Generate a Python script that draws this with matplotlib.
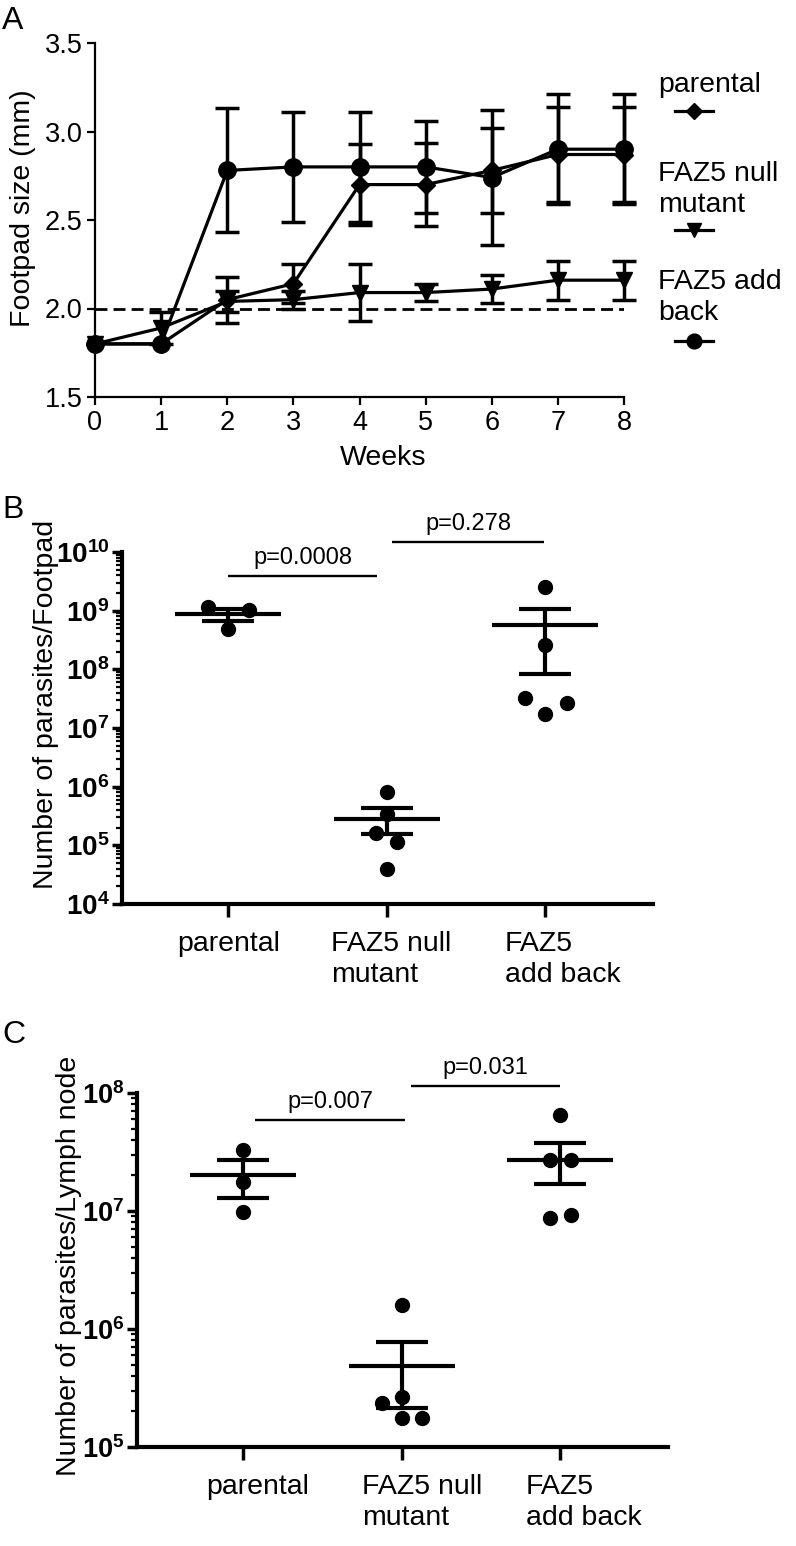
import math
import matplotlib
matplotlib.use('Agg')
import matplotlib.pyplot as plt
from matplotlib.lines import Line2D
from matplotlib.ticker import LogLocator, FixedLocator, NullFormatter
import matplotlib.transforms as mtransforms

plt.rcParams['font.family'] = ['Liberation Sans', 'DejaVu Sans']
plt.rcParams['mathtext.fontset'] = 'custom'
plt.rcParams['mathtext.rm'] = 'Liberation Sans'
plt.rcParams['mathtext.bf'] = 'Liberation Sans:bold'
plt.rcParams['mathtext.it'] = 'Liberation Sans:italic'

nan = float('nan')

# ---------------- DATA ----------------
weeks = [0, 1, 2, 3, 4, 5, 6, 7, 8]
parental_mean = [1.80, 1.80, 2.05, 2.14, 2.70, 2.70, 2.78, 2.87, 2.87]
parental_sem = [nan, nan, 0.13, 0.11, 0.23, 0.235, 0.24, 0.27, 0.27]
null_mean = [1.80, 1.89, 2.04, 2.05, 2.09, 2.09, 2.11, 2.16, 2.16]
null_sem = [nan, 0.09, 0.06, 0.05, 0.16, 0.05, 0.08, 0.11, 0.11]
addback_mean = [1.80, 1.80, 2.78, 2.80, 2.80, 2.80, 2.74, 2.90, 2.90]
addback_sem = [nan, nan, 0.35, 0.31, 0.31, 0.26, 0.38, 0.31, 0.31]
baseline_size = 2.0
legend_labels = ['parental', 'FAZ5 null\nmutant', 'FAZ5 add\nback']

groups = ['parental', 'FAZ5 null\nmutant', 'FAZ5\nadd back']

footpad_parental = [1.15e9, 1.02e9, 4.8e8]
footpad_null = [8.0e5, 3.4e5, 1.65e5, 1.15e5, 4.0e4]
footpad_addback = [2.5e9, 2.6e8, 3.2e7, 2.7e7, 1.7e7]
footpad_mean = [8.7e8, 2.8e5, 5.8e8]
footpad_upper = [1.08e9, 4.3e5, 1.08e9]
footpad_lower = [6.6e8, 1.55e5, 8.3e7]
footpad_p = ['p=0.0008', 'p=0.278']
footpad_bracket_y = [3.9e9, 1.48e10]

lymph_parental = [3.3e7, 1.75e7, 9.8e6]
lymph_null = [1.6e6, 2.35e5, 2.65e5, 1.77e5, 1.77e5]
lymph_addback = [6.5e7, 2.7e7, 2.7e7, 8.7e6, 9.2e6]
lymph_mean = [2.0e7, 4.9e5, 2.73e7]
lymph_upper = [2.7e7, 7.7e5, 3.8e7]
lymph_lower = [1.3e7, 2.13e5, 1.7e7]
lymph_p = ['p=0.007', 'p=0.031']
lymph_bracket_y = [5.9e7, 1.15e8]

# ---------------- LAYOUT ----------------
W, H = 796, 1546
fig = plt.figure(figsize=(W / 100, H / 100), dpi=100)


def rect(l, t, r, b):
    return [l / W, 1 - b / H, (r - l) / W, (b - t) / H]


def fx(x):
    return x / W


def fy(y):
    return 1 - y / H


axA = fig.add_axes(rect(95, 43, 624, 397))
axB = fig.add_axes(rect(122, 552, 653, 904))
axC = fig.add_axes(rect(137, 1093, 668, 1447))

# ---------------- PANEL A ----------------
styleA = [('D', 9), ('v', 11.5), ('o', 12.5)]
seriesA = [(parental_mean, parental_sem), (null_mean, null_sem), (addback_mean, addback_sem)]
for (m, e), (mk, ms) in zip(seriesA, styleA):
    axA.errorbar(weeks, m, yerr=e, fmt='-', color='black', lw=2.3, marker=mk, ms=ms,
                 mfc='black', mec='black', elinewidth=2.5, capsize=8.3, capthick=2.5,
                 clip_on=False, zorder=3)
axA.hlines(baseline_size, weeks[0], weeks[-1], colors='black',
           linestyles=(0, (4.3, 2.2)), lw=2.0, zorder=2)
axA.set_xlim(0, 8)
axA.set_ylim(1.5, 3.5)
axA.set_xticks(weeks)
axA.set_yticks([1.5, 2.0, 2.5, 3.0, 3.5])
axA.set_yticklabels(['1.5', '2.0', '2.5', '3.0', '3.5'])
for s in ['top', 'right']:
    axA.spines[s].set_visible(False)
for s in ['left', 'bottom']:
    axA.spines[s].set_linewidth(1.6)
axA.tick_params(direction='out', length=6, width=1.6, labelsize=19.5, pad=3)
axA.set_xlabel('Weeks', fontsize=20.5)
axA.set_ylabel('Footpad size (mm)', fontsize=20.5)
axA.xaxis.set_label_coords(0.544, -0.135)
axA.yaxis.set_label_coords(-0.111, 0.534)

# legend (text above marker line); baselines of the last line of each entry
leg_text_base = [92, 212, 320]
leg_marker_y = [111, 230, 341]
for lab, tb, my, (mk, ms) in zip(legend_labels, leg_text_base, leg_marker_y, styleA):
    fig.text(fx(658), fy(tb), lab, ha='left', va='baseline', fontsize=20.5, linespacing=1.25)
    fig.add_artist(Line2D([fx(675), fx(694), fx(713)], [fy(my)] * 3,
                          transform=fig.transFigure, color='black', lw=2.3,
                          marker=mk, ms=ms * 0.85, markevery=[1]))


# ---------------- PANELS B, C ----------------
def dot_panel(ax, values, offsets, means, uppers, lowers, pvals, spans, bracket_y,
              ylim, label_x, ylabel, ylabel_coords, ticksize):
    for i, (vals, offs) in enumerate(zip(values, offsets)):
        ax.plot([i + o for o in offs], vals, 'o', color='black', ms=10, clip_on=False, zorder=3)
    x = list(range(len(means)))
    ax.hlines(means, [i - 0.335 for i in x], [i + 0.335 for i in x], colors='black', lw=3, zorder=4)
    ax.vlines(x, lowers, uppers, colors='black', lw=3, zorder=4)
    ax.hlines(uppers, [i - 0.165 for i in x], [i + 0.165 for i in x], colors='black', lw=3, zorder=4)
    ax.hlines(lowers, [i - 0.165 for i in x], [i + 0.165 for i in x], colors='black', lw=3, zorder=4)
    for p, (a, b), by in zip(pvals, spans, bracket_y):
        ax.hlines(by, a, b, colors='black', lw=1.7, clip_on=False)
        ax.annotate(p, xy=((a + b) / 2, by), xytext=(0, 5), textcoords='offset points',
                    ha='center', va='bottom', fontsize=17, annotation_clip=False)
    ax.set_yscale('log')
    ax.set_ylim(*ylim)
    ax.set_xlim(-0.67, 2.68)
    lo, hi = [int(round(math.log10(v))) for v in ylim]
    ax.yaxis.set_major_locator(FixedLocator([10.0 ** k for k in range(lo, hi + 1)]))
    ax.set_yticklabels([r'$\mathbf{10^{%d}}$' % k for k in range(lo, hi + 1)])
    ax.yaxis.set_minor_locator(LogLocator(base=10, subs=range(2, 10), numticks=50))
    ax.yaxis.set_minor_formatter(NullFormatter())
    ax.set_xticks(x)
    ax.set_xticklabels([])
    for s in ['top', 'right']:
        ax.spines[s].set_visible(False)
    for s in ['left', 'bottom']:
        ax.spines[s].set_linewidth(3)
    ax.tick_params(axis='y', which='major', length=7, width=2.5, labelsize=ticksize, pad=2)
    ax.tick_params(axis='y', which='minor', length=4, width=1.6)
    ax.tick_params(axis='x', which='major', length=9, width=2.5)
    trans = mtransforms.offset_copy(ax.get_xaxis_transform(), fig=fig, y=-27, units='dots')
    for lx, g in zip(label_x, groups):
        ax.text(lx, 0, g, transform=trans, ha='center', va='top', multialignment='left',
                fontsize=20.5, linespacing=1.25)
    ax.set_ylabel(ylabel, fontsize=20.5)
    ax.yaxis.set_label_coords(*ylabel_coords)


dot_panel(axB,
          [footpad_parental, footpad_null, footpad_addback],
          [[-0.13, 0.13, 0.0], [0.0, 0.0, -0.07, 0.063, 0.0], [0.0, 0.0, -0.13, 0.14, 0.0]],
          footpad_mean, footpad_upper, footpad_lower, footpad_p,
          [(0.0, 0.94), (1.035, 1.99)], footpad_bracket_y,
          (1e4, 1e10), [0.0, 1.03, 2.11],
          'Number of parasites/Footpad', (-0.119, 0.568), 20)

dot_panel(axC,
          [lymph_parental, lymph_null, lymph_addback],
          [[0.0, 0.0, 0.0], [0.0, -0.126, 0.0, 0.0, 0.13], [0.0, -0.063, 0.07, -0.063, 0.07]],
          lymph_mean, lymph_upper, lymph_lower, lymph_p,
          [(0.075, 1.02), (1.06, 2.0)], lymph_bracket_y,
          (1e5, 1e8), [0.09, 1.13, 2.15],
          'Number of parasites/Lymph node', (-0.104, 0.511), 19.5)

# panel letters
fig.text(fx(2), fy(6), 'A', ha='left', va='top', fontsize=23)
fig.text(fx(2), fy(495), 'B', ha='left', va='top', fontsize=23)
fig.text(fx(2), fy(1020), 'C', ha='left', va='top', fontsize=23)

fig.savefig('out.png', dpi=100)
